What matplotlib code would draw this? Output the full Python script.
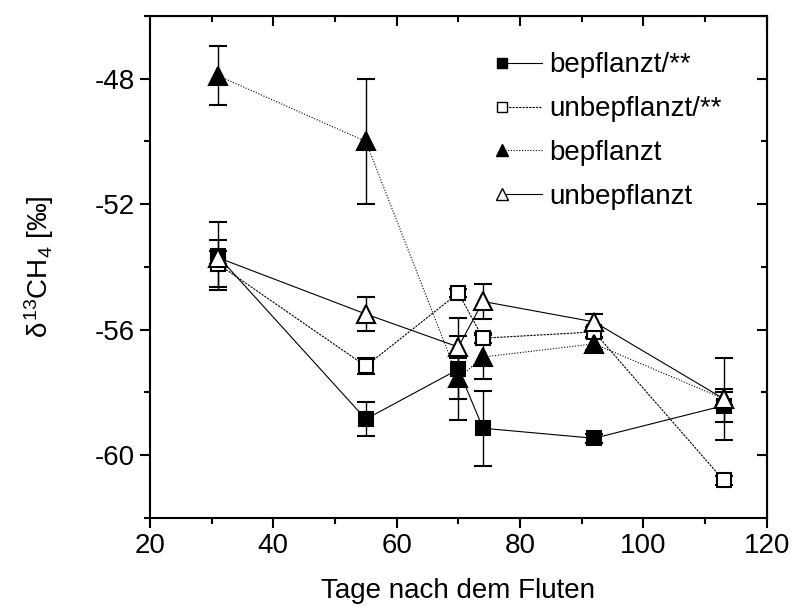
import numpy as np
import matplotlib
matplotlib.use('Agg')
import matplotlib.pyplot as plt
from matplotlib.legend_handler import HandlerLine2D
from matplotlib.lines import Line2D
from matplotlib.ticker import MultipleLocator

plt.rcParams['font.family'] = ['Liberation Sans', 'DejaVu Sans']
plt.rcParams['mathtext.fontset'] = 'custom'
plt.rcParams['mathtext.rm'] = 'Liberation Sans'
plt.rcParams['mathtext.it'] = 'Liberation Sans'
plt.rcParams['axes.unicode_minus'] = False

# Daten (Tage nach dem Fluten, delta13C-CH4 in Promille)
tage = [31, 55, 70, 74, 92, 113]

bep_ss = [-53.65, -58.85, -57.26, -59.14, -59.46, -58.42]
bep_ss_err = [1.08, 0.55, 1.62, 1.2, 0.15, 0.53]

unbep_ss = [-53.9, -57.16, -54.83, -56.27, -56.07, -60.8]
unbep_ss_err = [0.75, 0.25, 0.12, 0.15, 0.15, 0.15]

bep = [-47.9, -50.0, -57.55, -56.87, -56.45, -58.2]
bep_err = [0.93, 2.0, 0.67, 0.7, 0.2, 0.2]

unbep = [-53.7, -55.5, -56.55, -55.1, -55.75, -58.2]
unbep_err = [0.2, 0.54, 0.35, 0.55, 0.25, 1.3]

labels = ['bepflanzt/**', 'unbepflanzt/**', 'bepflanzt', 'unbepflanzt']


class MarkerLinks(HandlerLine2D):
    # Marker links vom Linienstueck, wie in Origin
    def create_artists(self, *args, **kwargs):
        arts = super().create_artists(*args, **kwargs)
        for a in arts:
            if len(a.get_xdata()) == 3:
                a.set_markevery([0])
        return arts


fig = plt.figure(figsize=(7.93, 6.13), dpi=100)
ax = fig.add_axes([0.189, 0.155, 0.778, 0.819])

serien = [
    (bep_ss, bep_ss_err, 's', 'black', '-', 10.5),
    (unbep_ss, unbep_ss_err, 's', 'white', (0, (2, 1)), 10.5),
    (bep, bep_err, '^', 'black', (0, (1, 1.5)), 13),
    (unbep, unbep_err, '^', 'white', '-', 13),
]

handles = []
for (werte, fehler, m, fc, ls, ms), lab in zip(serien, labels):
    ax.errorbar(tage, werte, yerr=fehler, marker=m, mfc=fc, mec='black', mew=1.5,
                ms=ms, color='black', ls=ls, lw=0.8, elinewidth=1.0,
                capsize=6.5, capthick=1.0)
    handles.append(Line2D([], [], marker=m, mfc=fc, mec='black', mew=1.0,
                          ms=ms * 0.62, color='black', ls=ls, lw=0.8, label=lab))

ax.set_xlim(20, 120)
ax.set_ylim(-62, -46)
ax.xaxis.set_major_locator(MultipleLocator(20))
ax.xaxis.set_minor_locator(MultipleLocator(10))
ax.yaxis.set_major_locator(MultipleLocator(4))
ax.yaxis.set_minor_locator(MultipleLocator(2))

for s in ax.spines.values():
    s.set_linewidth(1.5)
ax.tick_params(which='both', direction='out', width=1.5, labelsize=20)
ax.tick_params(which='major', length=7)
ax.tick_params(which='minor', length=4.5)

# innen liegende Ticks oben und rechts
ax_top = ax.secondary_xaxis('top')
ax_top.xaxis.set_major_locator(MultipleLocator(20))
ax_top.xaxis.set_minor_locator(MultipleLocator(10))
ax_top.tick_params(which='both', direction='in', width=1.5, labeltop=False)
ax_top.tick_params(which='major', length=7)
ax_top.tick_params(which='minor', length=4.5)
ax_right = ax.secondary_yaxis('right')
ax_right.yaxis.set_major_locator(MultipleLocator(4))
ax_right.yaxis.set_minor_locator(MultipleLocator(2))
ax_right.tick_params(which='both', direction='in', width=1.5, labelright=False)
ax_right.tick_params(which='major', length=7)
ax_right.tick_params(which='minor', length=4.5)

ax.set_xlabel('Tage nach dem Fluten', fontsize=20, labelpad=14)
ax.set_ylabel('$\\delta^{13}$CH$_4$ [‰]', fontsize=20, labelpad=28)

ax.legend(handles=handles, loc='upper right', bbox_to_anchor=(0.967, 0.977),
          frameon=False, fontsize=20, numpoints=1, handlelength=1.45,
          handletextpad=0.25, labelspacing=0.64,
          handler_map={Line2D: MarkerLinks()})

fig.savefig('out.png', dpi=100)
